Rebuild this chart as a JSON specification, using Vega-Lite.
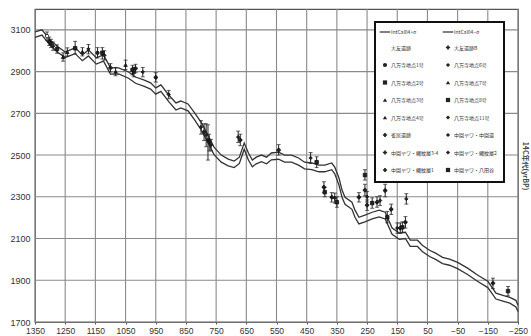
{
  "$schema": "https://vega.github.io/schema/vega-lite/v6.json",
  "width": 483,
  "height": 313,
  "autosize": {"type": "none"},
  "padding": {"left": 35, "top": 9, "right": 13, "bottom": 14},
  "background": "white",
  "config": {
    "view": {"stroke": "#555", "strokeWidth": 1.2},
    "font": "Liberation Sans",
    "axis": {"labelOverlap": false, "domainColor": "#555", "tickColor": "#555", "labelColor": "#333", "labelFont": "Liberation Sans", "labelFontSize": 9},
    "legend": {
      "orient": "none", "legendX": 340, "legendY": 13, "columns": 2, "direction": "vertical",
      "strokeColor": "#111", "strokeWidth": 2, "fillColor": "white",
      "padding": 7, "rowPadding": 7.5, "columnPadding": 1,
      "symbolSize": 18, "symbolStrokeColor": "#111", "symbolStrokeWidth": 1,
      "labelFont": "Noto Sans CJK JP", "labelFontSize": 5, "labelColor": "#333", "labelLimit": 55, "labelOffset": 3
    }
  },
  "datasets": {
    "gridx": [{"year": 1350}, {"year": 1250}, {"year": 1150}, {"year": 1050}, {"year": 950}, {"year": 850}, {"year": 750}, {"year": 650}, {"year": 550}, {"year": 450}, {"year": 350}, {"year": 250}, {"year": 150}, {"year": 50}, {"year": -50}, {"year": -150}, {"year": -250}],
    "gridy": [{"age": 1700}, {"age": 1900}, {"age": 2100}, {"age": 2300}, {"age": 2500}, {"age": 2700}, {"age": 2900}, {"age": 3100}],
    "curve": [
      {"year": 1350, "age": 3090, "curve": "upper"}, {"year": 1327, "age": 3100, "curve": "upper"}, {"year": 1300, "age": 3052, "curve": "upper"}, {"year": 1273, "age": 3018, "curve": "upper"}, {"year": 1250, "age": 2994, "curve": "upper"}, {"year": 1217, "age": 3014, "curve": "upper"}, {"year": 1193, "age": 2980, "curve": "upper"}, {"year": 1173, "age": 3004, "curve": "upper"}, {"year": 1147, "age": 2966, "curve": "upper"}, {"year": 1123, "age": 2980, "curve": "upper"}, {"year": 1100, "age": 2918, "curve": "upper"}, {"year": 1073, "age": 2918, "curve": "upper"}, {"year": 1040, "age": 2898, "curve": "upper"}, {"year": 1017, "age": 2874, "curve": "upper"}, {"year": 990, "age": 2860, "curve": "upper"}, {"year": 967, "age": 2846, "curve": "upper"}, {"year": 950, "age": 2822, "curve": "upper"}, {"year": 933, "age": 2836, "curve": "upper"}, {"year": 907, "age": 2788, "curve": "upper"}, {"year": 883, "age": 2750, "curve": "upper"}, {"year": 867, "age": 2759, "curve": "upper"}, {"year": 843, "age": 2745, "curve": "upper"}, {"year": 823, "age": 2706, "curve": "upper"}, {"year": 800, "age": 2658, "curve": "upper"}, {"year": 777, "age": 2596, "curve": "upper"}, {"year": 757, "age": 2538, "curve": "upper"}, {"year": 733, "age": 2500, "curve": "upper"}, {"year": 710, "age": 2481, "curve": "upper"}, {"year": 690, "age": 2471, "curve": "upper"}, {"year": 673, "age": 2490, "curve": "upper"}, {"year": 657, "age": 2558, "curve": "upper"}, {"year": 643, "age": 2510, "curve": "upper"}, {"year": 630, "age": 2476, "curve": "upper"}, {"year": 617, "age": 2490, "curve": "upper"}, {"year": 600, "age": 2500, "curve": "upper"}, {"year": 583, "age": 2490, "curve": "upper"}, {"year": 567, "age": 2510, "curve": "upper"}, {"year": 543, "age": 2514, "curve": "upper"}, {"year": 523, "age": 2500, "curve": "upper"}, {"year": 500, "age": 2500, "curve": "upper"}, {"year": 477, "age": 2486, "curve": "upper"}, {"year": 457, "age": 2466, "curve": "upper"}, {"year": 433, "age": 2462, "curve": "upper"}, {"year": 410, "age": 2452, "curve": "upper"}, {"year": 390, "age": 2452, "curve": "upper"}, {"year": 367, "age": 2462, "curve": "upper"}, {"year": 357, "age": 2442, "curve": "upper"}, {"year": 343, "age": 2390, "curve": "upper"}, {"year": 333, "age": 2332, "curve": "upper"}, {"year": 323, "age": 2298, "curve": "upper"}, {"year": 300, "age": 2274, "curve": "upper"}, {"year": 290, "age": 2236, "curve": "upper"}, {"year": 277, "age": 2202, "curve": "upper"}, {"year": 257, "age": 2212, "curve": "upper"}, {"year": 233, "age": 2226, "curve": "upper"}, {"year": 210, "age": 2236, "curve": "upper"}, {"year": 190, "age": 2226, "curve": "upper"}, {"year": 167, "age": 2150, "curve": "upper"}, {"year": 143, "age": 2126, "curve": "upper"}, {"year": 123, "age": 2130, "curve": "upper"}, {"year": 107, "age": 2092, "curve": "upper"}, {"year": 83, "age": 2092, "curve": "upper"}, {"year": 67, "age": 2068, "curve": "upper"}, {"year": 43, "age": 2044, "curve": "upper"}, {"year": 23, "age": 2030, "curve": "upper"}, {"year": 0, "age": 2010, "curve": "upper"}, {"year": -23, "age": 2001, "curve": "upper"}, {"year": -50, "age": 1986, "curve": "upper"}, {"year": -83, "age": 1958, "curve": "upper"}, {"year": -117, "age": 1924, "curve": "upper"}, {"year": -150, "age": 1895, "curve": "upper"}, {"year": -177, "age": 1838, "curve": "upper"}, {"year": -200, "age": 1828, "curve": "upper"}, {"year": -223, "age": 1818, "curve": "upper"}, {"year": -243, "age": 1804, "curve": "upper"}, {"year": -250, "age": 1780, "curve": "upper"},
      {"year": 1350, "age": 3064, "curve": "lower"}, {"year": 1327, "age": 3075, "curve": "lower"}, {"year": 1300, "age": 3026, "curve": "lower"}, {"year": 1273, "age": 2990, "curve": "lower"}, {"year": 1250, "age": 2968, "curve": "lower"}, {"year": 1217, "age": 2986, "curve": "lower"}, {"year": 1193, "age": 2952, "curve": "lower"}, {"year": 1173, "age": 2975, "curve": "lower"}, {"year": 1147, "age": 2936, "curve": "lower"}, {"year": 1123, "age": 2950, "curve": "lower"}, {"year": 1100, "age": 2888, "curve": "lower"}, {"year": 1073, "age": 2889, "curve": "lower"}, {"year": 1040, "age": 2868, "curve": "lower"}, {"year": 1017, "age": 2844, "curve": "lower"}, {"year": 990, "age": 2830, "curve": "lower"}, {"year": 967, "age": 2816, "curve": "lower"}, {"year": 950, "age": 2792, "curve": "lower"}, {"year": 933, "age": 2805, "curve": "lower"}, {"year": 907, "age": 2756, "curve": "lower"}, {"year": 883, "age": 2716, "curve": "lower"}, {"year": 867, "age": 2726, "curve": "lower"}, {"year": 843, "age": 2712, "curve": "lower"}, {"year": 823, "age": 2672, "curve": "lower"}, {"year": 800, "age": 2622, "curve": "lower"}, {"year": 777, "age": 2560, "curve": "lower"}, {"year": 757, "age": 2502, "curve": "lower"}, {"year": 733, "age": 2466, "curve": "lower"}, {"year": 710, "age": 2448, "curve": "lower"}, {"year": 690, "age": 2440, "curve": "lower"}, {"year": 673, "age": 2460, "curve": "lower"}, {"year": 657, "age": 2528, "curve": "lower"}, {"year": 643, "age": 2476, "curve": "lower"}, {"year": 630, "age": 2444, "curve": "lower"}, {"year": 617, "age": 2458, "curve": "lower"}, {"year": 600, "age": 2468, "curve": "lower"}, {"year": 583, "age": 2458, "curve": "lower"}, {"year": 567, "age": 2477, "curve": "lower"}, {"year": 543, "age": 2480, "curve": "lower"}, {"year": 523, "age": 2466, "curve": "lower"}, {"year": 500, "age": 2466, "curve": "lower"}, {"year": 477, "age": 2452, "curve": "lower"}, {"year": 457, "age": 2434, "curve": "lower"}, {"year": 433, "age": 2430, "curve": "lower"}, {"year": 410, "age": 2420, "curve": "lower"}, {"year": 390, "age": 2420, "curve": "lower"}, {"year": 367, "age": 2430, "curve": "lower"}, {"year": 357, "age": 2410, "curve": "lower"}, {"year": 343, "age": 2356, "curve": "lower"}, {"year": 333, "age": 2298, "curve": "lower"}, {"year": 323, "age": 2264, "curve": "lower"}, {"year": 300, "age": 2240, "curve": "lower"}, {"year": 290, "age": 2202, "curve": "lower"}, {"year": 277, "age": 2170, "curve": "lower"}, {"year": 257, "age": 2180, "curve": "lower"}, {"year": 233, "age": 2194, "curve": "lower"}, {"year": 210, "age": 2204, "curve": "lower"}, {"year": 190, "age": 2194, "curve": "lower"}, {"year": 167, "age": 2120, "curve": "lower"}, {"year": 143, "age": 2096, "curve": "lower"}, {"year": 123, "age": 2100, "curve": "lower"}, {"year": 107, "age": 2062, "curve": "lower"}, {"year": 83, "age": 2062, "curve": "lower"}, {"year": 67, "age": 2038, "curve": "lower"}, {"year": 43, "age": 2014, "curve": "lower"}, {"year": 23, "age": 2000, "curve": "lower"}, {"year": 0, "age": 1980, "curve": "lower"}, {"year": -23, "age": 1972, "curve": "lower"}, {"year": -50, "age": 1956, "curve": "lower"}, {"year": -83, "age": 1928, "curve": "lower"}, {"year": -117, "age": 1894, "curve": "lower"}, {"year": -150, "age": 1865, "curve": "lower"}, {"year": -177, "age": 1810, "curve": "lower"}, {"year": -200, "age": 1800, "curve": "lower"}, {"year": -223, "age": 1790, "curve": "lower"}, {"year": -243, "age": 1772, "curve": "lower"}, {"year": -250, "age": 1750, "curve": "lower"}
    ],
    "pts": [
      {"year": 1310, "age": 3070, "lo": 3050, "hi": 3090, "series": "大友遺跡"},
      {"year": 1303, "age": 3045, "lo": 3025, "hi": 3065, "series": "大友遺跡B"},
      {"year": 1297, "age": 3035, "lo": 3015, "hi": 3055, "series": "八万寺地点1号"},
      {"year": 1290, "age": 3022, "lo": 3002, "hi": 3042, "series": "八万寺地点6号"},
      {"year": 1277, "age": 3008, "lo": 2988, "hi": 3028, "series": "八万寺地点2号"},
      {"year": 1257, "age": 2970, "lo": 2950, "hi": 2990, "series": "八万寺地点7号"},
      {"year": 1243, "age": 2994, "lo": 2974, "hi": 3014, "series": "八万寺地点3号"},
      {"year": 1217, "age": 3012, "lo": 2985, "hi": 3045, "series": "八万寺地点8号"},
      {"year": 1193, "age": 2995, "lo": 2975, "hi": 3015, "series": "八万寺地点4号"},
      {"year": 1173, "age": 3008, "lo": 2985, "hi": 3030, "series": "八万寺地点11号"},
      {"year": 1143, "age": 2990, "lo": 2965, "hi": 3015, "series": "八万寺地点1号"},
      {"year": 1127, "age": 2990, "lo": 2960, "hi": 3015, "series": "八万寺地点2号"},
      {"year": 1120, "age": 2978, "lo": 2955, "hi": 3000, "series": "八万寺地点6号"},
      {"year": 1100, "age": 2918, "lo": 2898, "hi": 2938, "series": "雀居遺跡"},
      {"year": 1083, "age": 2900, "lo": 2880, "hi": 2920, "series": "八万寺地点3号"},
      {"year": 1050, "age": 2932, "lo": 2910, "hi": 2955, "series": "八万寺地点7号"},
      {"year": 1027, "age": 2908, "lo": 2885, "hi": 2930, "series": "八万寺地点8号"},
      {"year": 1023, "age": 2898, "lo": 2875, "hi": 2920, "series": "八万寺地点4号"},
      {"year": 1017, "age": 2915, "lo": 2895, "hi": 2935, "series": "雀居遺跡"},
      {"year": 993, "age": 2898, "lo": 2875, "hi": 2920, "series": "八万寺地点11号"},
      {"year": 950, "age": 2872, "lo": 2850, "hi": 2895, "series": "雀居遺跡"},
      {"year": 907, "age": 2790, "lo": 2770, "hi": 2810, "series": "中園ヤワ・中園遺"},
      {"year": 800, "age": 2634, "lo": 2600, "hi": 2665, "series": "中園ヤワ・中園遺"},
      {"year": 790, "age": 2610, "lo": 2570, "hi": 2650, "series": "中園ヤワ・縄紋層3-4"},
      {"year": 783, "age": 2596, "lo": 2540, "hi": 2650, "series": "中園ヤワ・縄紋層2"},
      {"year": 777, "age": 2572, "lo": 2476, "hi": 2645, "series": "中園ヤワ・縄紋層1"},
      {"year": 773, "age": 2562, "lo": 2520, "hi": 2600, "series": "中園ヤワ・縄紋層3-4"},
      {"year": 767, "age": 2548, "lo": 2520, "hi": 2575, "series": "中園ヤワ・縄紋層2"},
      {"year": 677, "age": 2586, "lo": 2560, "hi": 2615, "series": "中園ヤワ・中園遺"},
      {"year": 670, "age": 2572, "lo": 2545, "hi": 2600, "series": "中園ヤワ・縄紋層1"},
      {"year": 543, "age": 2524, "lo": 2500, "hi": 2550, "series": "中園ヤワ・縄紋層3-4"},
      {"year": 437, "age": 2486, "lo": 2460, "hi": 2512, "series": "中園ヤワ・縄紋層2"},
      {"year": 417, "age": 2466, "lo": 2440, "hi": 2492, "series": "中園ヤワ・八田谷"},
      {"year": 393, "age": 2346, "lo": 2320, "hi": 2372, "series": "中園ヤワ・縄紋層1"},
      {"year": 390, "age": 2322, "lo": 2300, "hi": 2345, "series": "中園ヤワ・八田谷"},
      {"year": 367, "age": 2298, "lo": 2275, "hi": 2320, "series": "中園ヤワ・縄紋層3-4"},
      {"year": 357, "age": 2294, "lo": 2270, "hi": 2318, "series": "中園ヤワ・縄紋層2"},
      {"year": 350, "age": 2274, "lo": 2250, "hi": 2300, "series": "中園ヤワ・八田谷"},
      {"year": 277, "age": 2298, "lo": 2275, "hi": 2320, "series": "中園ヤワ・縄紋層1"},
      {"year": 257, "age": 2404, "lo": 2380, "hi": 2430, "series": "中園ヤワ・八田谷"},
      {"year": 257, "age": 2332, "lo": 2305, "hi": 2360, "series": "中園ヤワ・縄紋層3-4"},
      {"year": 250, "age": 2300, "lo": 2275, "hi": 2325, "series": "中園ヤワ・縄紋層2"},
      {"year": 250, "age": 2260, "lo": 2235, "hi": 2285, "series": "中園ヤワ・縄紋層1"},
      {"year": 233, "age": 2270, "lo": 2245, "hi": 2295, "series": "中園ヤワ・八田谷"},
      {"year": 217, "age": 2274, "lo": 2250, "hi": 2300, "series": "中園ヤワ・縄紋層3-4"},
      {"year": 207, "age": 2282, "lo": 2258, "hi": 2305, "series": "中園ヤワ・縄紋層2"},
      {"year": 190, "age": 2330, "lo": 2300, "hi": 2360, "series": "中園ヤワ・縄紋層1"},
      {"year": 183, "age": 2202, "lo": 2175, "hi": 2230, "series": "中園ヤワ・八田谷"},
      {"year": 170, "age": 2240, "lo": 2215, "hi": 2265, "series": "中園ヤワ・縄紋層3-4"},
      {"year": 150, "age": 2150, "lo": 2125, "hi": 2175, "series": "中園ヤワ・縄紋層2"},
      {"year": 140, "age": 2150, "lo": 2125, "hi": 2175, "series": "中園ヤワ・縄紋層1"},
      {"year": 133, "age": 2154, "lo": 2130, "hi": 2180, "series": "中園ヤワ・八田谷"},
      {"year": 123, "age": 2178, "lo": 2150, "hi": 2205, "series": "中園ヤワ・縄紋層3-4"},
      {"year": 120, "age": 2290, "lo": 2265, "hi": 2315, "series": "中園ヤワ・縄紋層2"},
      {"year": -167, "age": 1886, "lo": 1860, "hi": 1910, "series": "中園ヤワ・縄紋層1"},
      {"year": -217, "age": 1848, "lo": 1825, "hi": 1870, "series": "中園ヤワ・八田谷"}
    ]
  },
  "layer": [
    {
      "data": {"name": "gridy"},
      "mark": {"type": "rule", "color": "#8a8a8a", "strokeWidth": 1.1},
      "encoding": {
        "y": {"field": "age", "type": "quantitative", "axis": null}
      }
    },
    {
      "data": {"name": "gridx"},
      "mark": {"type": "rule", "color": "#8a8a8a", "strokeWidth": 1.1},
      "encoding": {
        "x": {"field": "year", "type": "quantitative", "scale": {"domain": [1350, -250], "nice": false, "zero": false},
              "axis": {"title": null, "values": [1350, 1250, 1150, 1050, 950, 850, 750, 650, 550, 450, 350, 250, 150, 50, -50, -150, -250], "format": "d", "labelOverlap": false, "grid": false, "tickSize": 2, "labelPadding": 2, "labelFontSize": 8.5, "labelFlush": false}}
      }
    },
    {
      "data": {"name": "curve"},
      "mark": {"type": "line", "color": "#333", "strokeWidth": 1.3},
      "encoding": {
        "x": {"field": "year", "type": "quantitative",
              "axis": {"title": null, "values": [1350, 1250, 1150, 1050, 950, 850, 750, 650, 550, 450, 350, 250, 150, 50, -50, -150, -250], "format": "d", "labelOverlap": false, "grid": false, "tickSize": 2, "labelPadding": 2, "labelFontSize": 8.5, "labelFlush": false}},
        "y": {"field": "age", "type": "quantitative", "scale": {"domain": [1700, 3200], "nice": false, "zero": false},
              "axis": {"title": null, "values": [1700, 1900, 2100, 2300, 2500, 2700, 2900, 3100], "format": "d", "labelOverlap": false, "grid": false, "tickSize": 0, "labelPadding": 5, "labelFontSize": 9, "domain": false}},
        "detail": {"field": "curve"}
      }
    },
    {
      "data": {"name": "pts"},
      "mark": {"type": "errorbar", "ticks": {"size": 4, "color": "#222"}, "rule": {"color": "#222", "strokeWidth": 1}},
      "encoding": {
        "x": {"field": "year", "type": "quantitative",
              "axis": {"title": null, "values": [1350, 1250, 1150, 1050, 950, 850, 750, 650, 550, 450, 350, 250, 150, 50, -50, -150, -250], "format": "d", "labelOverlap": false, "grid": false, "tickSize": 2, "labelPadding": 2, "labelFontSize": 8.5, "labelFlush": false}},
        "y": {"field": "lo", "type": "quantitative", "axis": null},
        "y2": {"field": "hi"}
      }
    },
    {
      "data": {"name": "pts"},
      "mark": {"type": "point", "stroke": "#111", "strokeWidth": 0.8, "size": 12, "opacity": 1},
      "encoding": {
        "x": {"field": "year", "type": "quantitative",
              "axis": {"title": null, "values": [1350, 1250, 1150, 1050, 950, 850, 750, 650, 550, 450, 350, 250, 150, 50, -50, -150, -250], "format": "d", "labelOverlap": false, "grid": false, "tickSize": 2, "labelPadding": 2, "labelFontSize": 8.5, "labelFlush": false}},
        "y": {"field": "age", "type": "quantitative",
              "axis": {"orient": "right", "labels": false, "ticks": false, "grid": false, "domain": false, "title": "14C年代(yrBP)", "titleFontSize": 7, "titleFont": "Noto Sans CJK JP", "titleColor": "#444", "titlePadding": 3}},
        "shape": {"field": "series", "type": "nominal",
          "scale": {"domain": ["IntCal04+σ", "大友遺跡", "八万寺地点1号", "八万寺地点2号", "八万寺地点3号", "八万寺地点4号", "雀居遺跡", "中園ヤワ・縄紋層3-4", "中園ヤワ・縄紋層1", "IntCal04−σ", "大友遺跡B", "八万寺地点6号", "八万寺地点7号", "八万寺地点8号", "八万寺地点11号", "中園ヤワ・中園遺", "中園ヤワ・縄紋層2", "中園ヤワ・八田谷"],
                    "range": ["M-2.5,-0.25H2.5V0.25H-2.5Z", "circle", "circle", "square", "triangle-up", "triangle-up", "cross", "cross", "cross", "M-2.5,-0.25H2.5V0.25H-2.5Z", "cross", "diamond", "triangle-up", "square", "diamond", "diamond", "diamond", "square"]},
          "legend": {"title": null}},
        "fill": {"field": "series", "type": "nominal",
          "scale": {"domain": ["IntCal04+σ", "大友遺跡", "八万寺地点1号", "八万寺地点2号", "八万寺地点3号", "八万寺地点4号", "雀居遺跡", "中園ヤワ・縄紋層3-4", "中園ヤワ・縄紋層1", "IntCal04−σ", "大友遺跡B", "八万寺地点6号", "八万寺地点7号", "八万寺地点8号", "八万寺地点11号", "中園ヤワ・中園遺", "中園ヤワ・縄紋層2", "中園ヤワ・八田谷"],
                    "range": ["#111", "white", "#222", "#222", "#222", "#222", "#222", "#222", "#222", "#111", "#222", "#222", "#222", "#222", "#222", "#222", "#222", "#222"]},
          "legend": {"title": null}}
      }
    }
  ],
  "resolve": {"axis": {"y": "independent"}}
}
